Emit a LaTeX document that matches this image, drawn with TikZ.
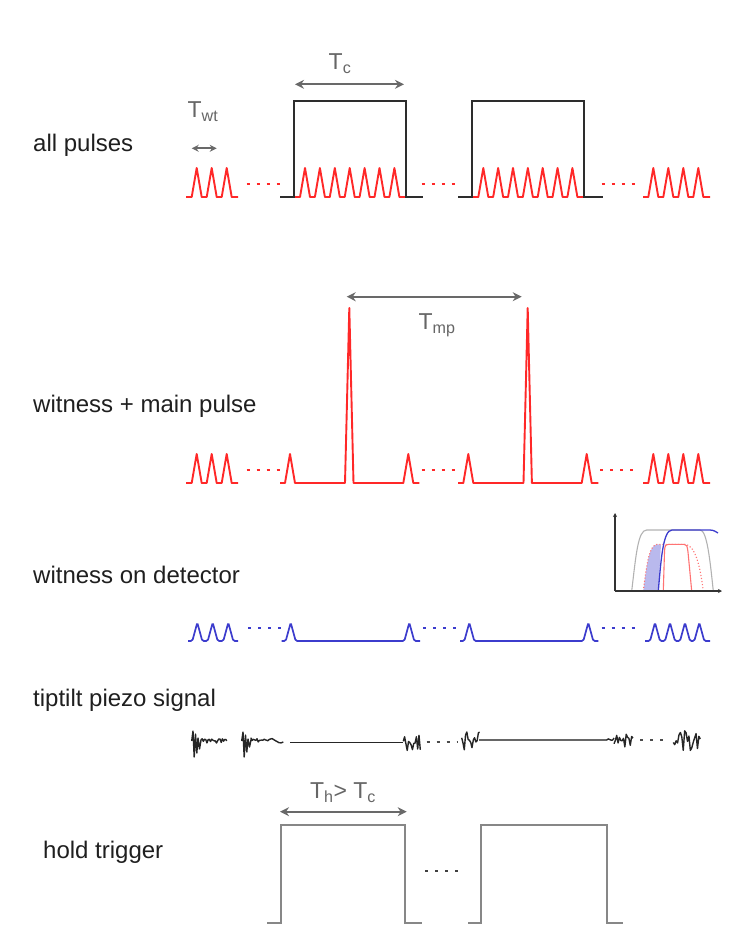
\documentclass[tikz,border=0pt]{standalone}
\usepackage{fontspec}
\setmainfont{Liberation Sans}
\usepackage{tikz}
\usetikzlibrary{arrows.meta,positioning,calc}
\definecolor{pulsered}{RGB}{255,40,40}
\definecolor{detblue}{RGB}{60,60,205}
\definecolor{gategray}{RGB}{45,45,45}
\definecolor{holdgray}{RGB}{135,135,135}
\definecolor{spangray}{RGB}{105,105,105}
\tikzset{
    rowlabel/.style={anchor=west, inner sep=0pt, font=\fontsize{24}{28}\selectfont, text=black!88},
    timelabel/.style={inner sep=0pt, font=\fontsize{23}{27}\selectfont, text=black!60},
    redpulse/.style={pulsered, line width=1.9pt, line join=round},
    bluepulse/.style={detblue, line width=1.7pt, rounded corners=1.5pt},
    gatebox/.style={gategray, line width=2.4pt},
    holdbox/.style={holdgray, line width=2.3pt},
    spanarrow/.style={spangray, line width=2.3pt, {Stealth[length=9pt,width=9pt]}-{Stealth[length=9pt,width=9pt]}},
    gapdots/.style={line width=2pt, dash pattern=on 3pt off 7pt},
    piezo/.style={black!85, line width=1.4pt, line join=round},
    inset/.style={line width=1.1pt},
}

\begin{document}
\begin{tikzpicture}[x=1pt, y=-1pt]
    \useasboundingbox (0,0) rectangle (745,930);
    \pgfmathsetseed{17}

    % all pulses
    \node[rowlabel] (lblall) at (33,145) {all pulses};
    \draw[redpulse] (186,197) \foreach \p in {196.7,211.7,226.7} {-- ({\p-5},197) -- (\p,168) -- ({\p+5},197)} -- (238,197);
    \draw[redpulse] (294,197) \foreach \k [evaluate=\k as \p using 305+14.9*\k] in {0,...,6} {-- ({\p-5},197) -- (\p,168) -- ({\p+5},197)} -- (406,197);
    \draw[redpulse] (472,197) \foreach \k [evaluate=\k as \p using 483.3+14.85*\k] in {0,...,6} {-- ({\p-5},197) -- (\p,168) -- ({\p+5},197)} -- (584,197);
    \draw[redpulse] (643,197) \foreach \p in {653.3,668.3,683.3,698.3} {-- ({\p-5},197) -- (\p,168) -- ({\p+5},197)} -- (710,197);
    \draw[gatebox] (280,197) -- (294,197) -- (294,101) -- (406,101) -- (406,197) -- (423,197);
    \draw[gatebox] (458,197) -- (472,197) -- (472,101) -- (584,101) -- (584,197) -- (603,197);
    \draw[redpulse, gapdots] (246.7,184) -- (283,184);
    \draw[redpulse, gapdots] (421.7,184) -- (458,184);
    \draw[redpulse, gapdots] (601.7,184) -- (638,184);
    \coordinate (twtL) at (191.7,148.3);
    \coordinate (twtR) at (216.7,148.3);
    \draw[spanarrow, line width=1.8pt, {Stealth[length=7pt,width=7pt]}-{Stealth[length=7pt,width=7pt]}] (twtL) -- (twtR);
    \node[timelabel] (twt) at (203,112) {T\textsubscript{wt}};
    \coordinate (tcL) at (295,84.3);
    \coordinate (tcR) at (404,84.3);
    \draw[spanarrow] (tcL) -- (tcR);
    \node[timelabel] (tc) at (340,64) {T\textsubscript{c}};

    % witness + main pulse
    \node[rowlabel] (lblmain) at (33,406) {witness + main pulse};
    \draw[redpulse] (186,483) \foreach \p in {196.7,211.7,226.7} {-- ({\p-5},483) -- (\p,454) -- ({\p+5},483)} -- (238,483);
    \draw[redpulse] (280,483) -- (285,483) -- (290,454) -- (295,483) -- (345,483) -- (349.3,308) -- (353.5,483)
        -- (403.3,483) -- (408.3,454) -- (413.3,483) -- (419.3,483);
    \draw[redpulse] (458,483) -- (463.3,483) -- (468.3,454) -- (473.3,483) -- (523.5,483) -- (527.7,308) -- (531.9,483)
        -- (581.7,483) -- (586.7,454) -- (591.7,483) -- (598.3,483);
    \draw[redpulse] (643,483) \foreach \p in {653.3,668.3,683.3,698.3} {-- ({\p-5},483) -- (\p,454) -- ({\p+5},483)} -- (710,483);
    \draw[redpulse, gapdots] (246.7,470) -- (283,470);
    \draw[redpulse, gapdots] (421.7,470) -- (458,470);
    \draw[redpulse, gapdots] (600,470) -- (637,470);
    \coordinate (tmpL) at (346.7,296.7);
    \coordinate (tmpR) at (521.7,296.7);
    \draw[spanarrow] (tmpL) -- (tmpR);
    \node[timelabel] (tmp) at (437,325) {T\textsubscript{mp}};

    % witness on detector
    \node[rowlabel] (lbldet) at (33,575) {witness on detector};
    \draw[bluepulse] (188,641) \foreach \p in {197.3,212.7,228.3} {-- ({\p-5},641) -- (\p,622.7) -- ({\p+5},641)} -- (238,641);
    \draw[bluepulse] (281.7,641) -- (285.7,641) -- (290.7,622.7) -- (295.7,641) -- (404.3,641) -- (409.3,622.7) -- (414.3,641) -- (420,641);
    \draw[bluepulse] (460,641) -- (464.3,641) -- (469.3,622.7) -- (474.3,641) -- (583.3,641) -- (588.3,622.7) -- (593.3,641) -- (598.3,641);
    \draw[bluepulse] (645,641) \foreach \p in {655,670,685,699.3} {-- ({\p-5},641) -- (\p,622.7) -- ({\p+5},641)} -- (710,641);
    \draw[detblue, gapdots] (248,627.7) -- (283,627.7);
    \draw[detblue, gapdots] (423,627.7) -- (458,627.7);
    \draw[detblue, gapdots] (601.7,627.7) -- (637,627.7);

    % inset: transmission windows
    \coordinate (ax0) at (615,591);
    \coordinate (axY) at (615,513);
    \coordinate (axX) at (722,591);
    \fill[detblue!45, opacity=0.8] (643.3,591) .. controls (647,560) and (650,545) .. (657,544.3) -- (661,544.3) -- (658.3,591) -- cycle;
    \draw[inset, black!30] (631.7,591) .. controls (636,555) and (638,530) .. (646.7,530) -- (700,530) .. controls (707,530) and (710,560) .. (713.3,591);
    \draw[inset, red!55, dotted] (643.3,591) .. controls (647,560) and (650,545) .. (657,544.3) -- (685,544.3) .. controls (695,545) and (700,565) .. (703.3,591);
    \draw[inset, red!55] (663.3,591) -- (664.5,552) .. controls (665,545) .. (669,544.3) -- (684,544.3) .. controls (687,545) .. (688,552) -- (691.7,591);
    \draw[inset, detblue, line width=1.3pt] (ax0) -- (658.3,591) .. controls (661,560) and (663,530) .. (672,530) -- (710,530) .. controls (714,530) and (716,532) .. (718,533);
    \draw[inset, black!80, -{Stealth[length=4pt,width=4pt]}] (ax0) -- (axY);
    \draw[inset, black!80, -{Stealth[length=4pt,width=4pt]}] (ax0) -- (axX);

    % tiptilt piezo signal
    \node[rowlabel] (lblpiezo) at (33,700) {tiptilt piezo signal};
    \draw[piezo] (191.7,741) -- (193,731) -- (194.2,757) -- (195.5,734) -- (196.8,753) -- (198,738) -- (199.5,749) -- (201,740)
        -- plot[domain=0:25, samples=22] ({201+\x}, {741 + 2.2*rand}) -- (226.7,741);
    \draw[piezo] (241.7,741) -- (243,732) -- (244.2,757) -- (245.5,735) -- (246.8,752) -- (248,739) -- (249.5,747) -- (251,740)
        -- plot[domain=0:18, samples=16] ({251+\x}, {740 + 2*rand})
        .. controls (273,735) and (277,746) .. (283.3,742);
    \draw[piezo] (290,742.7) -- (403.3,742.7);
    \draw[piezo] plot[domain=0:17, samples=14] ({403.3+\x}, {742.7 + 8*rand});
    \draw[piezo] plot[domain=0:18, samples=15] ({461.7+\x}, {741 + 9*rand});
    \draw[black!60, line width=2.6pt] (479.3,740) -- (606.7,740);
    \draw[piezo] (606.7,740) .. controls (609,736) and (611,744) .. (614,738);
    \draw[piezo] plot[domain=0:19, samples=15] ({614+\x}, {739 + 8*rand});
    \draw[piezo] plot[domain=0:27, samples=20] ({673.3+\x}, {740 + 11*rand});
    \draw[piezo, black!70, gapdots] (426.7,742) -- (458,742);
    \draw[piezo, black!70, gapdots] (640,740) -- (666,740);

    % hold trigger
    \node[rowlabel] (lblhold) at (43,852) {hold trigger};
    \draw[holdbox] (267.3,922.7) -- (280.7,922.7) -- (280.7,825) -- (405,825) -- (405,922.7) -- (421.7,922.7);
    \draw[holdbox] (468.3,922.7) -- (480.7,922.7) -- (480.7,825) -- (606.7,825) -- (606.7,922.7) -- (622.7,922.7);
    \draw[black!75, gapdots] (425,870.7) -- (461,870.7);
    \coordinate (thL) at (280,811.7);
    \coordinate (thR) at (406.7,811.7);
    \draw[spanarrow] (thL) -- (thR);
    \node[timelabel] (th) at (343,793) {T\textsubscript{h}> T\textsubscript{c}};
\end{tikzpicture}
\end{document}
